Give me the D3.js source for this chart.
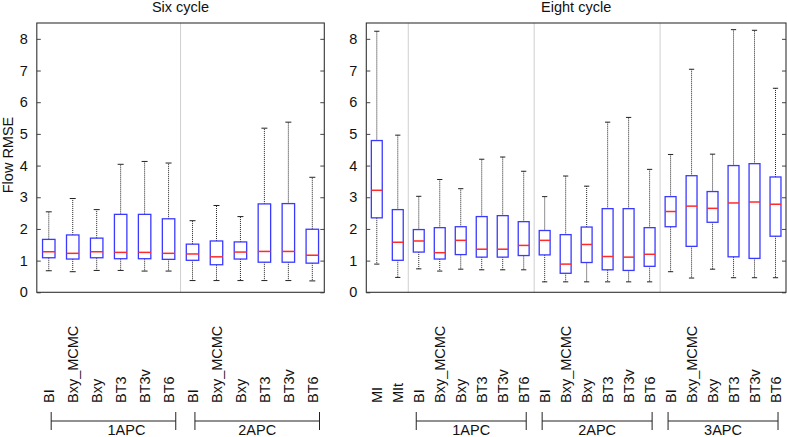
<!DOCTYPE html>
<html>
<head>
<meta charset="utf-8">
<script src="https://cdn.jsdelivr.net/npm/d3@7"></script>
<style>
  html, body { margin: 0; padding: 0; background: #fff; }
  svg { display: block; }
  text { font-family: "Liberation Sans", Arial, Helvetica, sans-serif; fill: #111; }
</style>
</head>
<body>
<svg id="chart" width="787" height="437"></svg>
<script>
// ---------- data ----------
const yTicks = [0, 1, 2, 3, 4, 5, 6, 7, 8];

const sixTitle = "Six cycle";
const sixLabels = ["BI","Bxy_MCMC","Bxy","BT3","BT3v","BT6","BI","Bxy_MCMC","Bxy","BT3","BT3v","BT6"];
const sixLow  = [0.68,0.65,0.69,0.69,0.67,0.67, 0.37,0.37,0.37,0.37,0.37,0.36];
const sixQ1   = [1.09,1.05,1.09,1.06,1.06,1.04, 1.01,0.87,1.05,0.95,0.95,0.92];
const sixMed  = [1.28,1.23,1.28,1.26,1.26,1.23, 1.21,1.12,1.27,1.29,1.29,1.17];
const sixQ3   = [1.67,1.81,1.71,2.46,2.46,2.32, 1.52,1.62,1.59,2.79,2.80,1.99];
const sixHigh = [2.54,2.96,2.61,4.04,4.13,4.08, 2.26,2.74,2.39,5.18,5.37,3.63];
const sixGroups = ["1APC","2APC"];
const sixGroupStart = [1, 7];
const sixGroupEnd = [6, 12];

const eightTitle = "Eight cycle";
const eightLabels = ["MI","MIt",
  "BI","Bxy_MCMC","Bxy","BT3","BT3v","BT6",
  "BI","Bxy_MCMC","Bxy","BT3","BT3v","BT6",
  "BI","Bxy_MCMC","Bxy","BT3","BT3v","BT6"];
const eightLow  = [0.89,0.47, 0.74,0.67,0.73,0.71,0.71,0.71, 0.33,0.33,0.33,0.33,0.33,0.33, 0.65,0.45,0.73,0.46,0.46,0.46];
const eightQ1   = [2.35,1.01, 1.27,1.05,1.19,1.11,1.11,1.16, 1.18,0.60,0.94,0.71,0.69,0.82, 2.07,1.45,2.21,1.12,1.07,1.77];
const eightMed  = [3.22,1.58, 1.62,1.25,1.64,1.36,1.36,1.48, 1.64,0.89,1.51,1.13,1.11,1.20, 2.55,2.72,2.65,2.82,2.85,2.78];
const eightQ3   = [4.79,2.61, 1.98,2.04,2.07,2.39,2.42,2.23, 1.95,1.82,2.06,2.64,2.64,2.04, 3.02,3.68,3.18,4.00,4.06,3.64];
const eightHigh = [8.24,4.96, 3.03,3.56,3.27,4.20,4.27,3.82, 3.02,3.67,3.35,5.37,5.52,3.88, 4.35,7.04,4.36,8.29,8.27,6.44];
const eightGroups = ["1APC","2APC","3APC"];
const eightGroupStart = [3, 9, 15];
const eightGroupEnd = [8, 14, 20];

// ---------- layout ----------
const svg = d3.select("#chart");
const FONT = 14.5;
const yScale = d3.scaleLinear().domain([0, 8.5]).range([292.3, 23]);

function drawPanel(opt) {
  const n = opt.labels.length;
  const x = d3.scaleLinear().domain([0.5, n + 0.5]).range([opt.x0, opt.x1]);
  const g = svg.append("g");
  const top = yScale.range()[1], bot = yScale.range()[0];

  // title
  g.append("text").attr("x", (opt.x0 + opt.x1) / 2).attr("y", 12)
    .attr("text-anchor", "middle").style("font-size", FONT + "px").text(opt.title);

  // separators
  opt.groupStart.forEach(s => {
    if (s - 0.5 > 0.5) {
      g.append("line").attr("x1", x(s - 0.5)).attr("x2", x(s - 0.5))
        .attr("y1", top).attr("y2", bot).attr("stroke", "#cfcfcf").attr("stroke-width", 1);
    }
  });

  // y axis (left, inward ticks) and right ticks
  const axL = d3.axisLeft(yScale).tickValues(yTicks).tickSizeInner(-4).tickSizeOuter(0).tickPadding(9);
  const gl = g.append("g").attr("transform", `translate(${opt.x0},0)`).call(axL);
  gl.select(".domain").remove();
  gl.selectAll("line").attr("stroke", "#444");
  gl.selectAll("text").style("font-size", FONT + "px").attr("fill", "#111")
    .style("font-family", '"Liberation Sans", Arial, Helvetica, sans-serif');
  const axR = d3.axisRight(yScale).tickValues(yTicks).tickSizeInner(-4).tickSizeOuter(0).tickFormat("");
  const gr = g.append("g").attr("transform", `translate(${opt.x1},0)`).call(axR);
  gr.select(".domain").remove();
  gr.selectAll("line").attr("stroke", "#444");

  // boxes
  const bw = 0.52, cw = 0.25;
  d3.range(n).forEach(i => {
    const c = i + 1;
    const bx = g.append("g");
    // whiskers (dotted)
    bx.append("line").attr("x1", x(c)).attr("x2", x(c))
      .attr("y1", yScale(opt.q3[i])).attr("y2", yScale(opt.high[i]))
      .attr("stroke", "#222").attr("stroke-width", 1).attr("stroke-dasharray", "1,1");
    bx.append("line").attr("x1", x(c)).attr("x2", x(c))
      .attr("y1", yScale(opt.q1[i])).attr("y2", yScale(opt.low[i]))
      .attr("stroke", "#222").attr("stroke-width", 1).attr("stroke-dasharray", "1,1");
    // caps
    [opt.high[i], opt.low[i]].forEach(v => {
      bx.append("line").attr("x1", x(c - cw / 2)).attr("x2", x(c + cw / 2))
        .attr("y1", yScale(v)).attr("y2", yScale(v))
        .attr("stroke", "#222").attr("stroke-width", 1);
    });
    // box
    bx.append("rect").attr("x", x(c - bw / 2)).attr("width", x(c + bw / 2) - x(c - bw / 2))
      .attr("y", yScale(opt.q3[i])).attr("height", yScale(opt.q1[i]) - yScale(opt.q3[i]))
      .attr("fill", "none").attr("stroke", "#3a3aff").attr("stroke-width", 1.3);
    // median
    bx.append("line").attr("x1", x(c - bw / 2)).attr("x2", x(c + bw / 2))
      .attr("y1", yScale(opt.med[i])).attr("y2", yScale(opt.med[i]))
      .attr("stroke", "#ff2a2a").attr("stroke-width", 1.5);
  });

  // frame
  g.append("rect").attr("x", opt.x0).attr("y", top).attr("width", opt.x1 - opt.x0).attr("height", bot - top)
    .attr("fill", "none").attr("stroke", "#333").attr("stroke-width", 1.1);

  // rotated category labels (start at bottom, read upward)
  opt.labels.forEach((lab, i) => {
    g.append("text")
      .attr("transform", `translate(${x(i + 1)},403) rotate(-90)`)
      .attr("dy", "0.36em").attr("text-anchor", "start")
      .style("font-size", FONT + "px").text(lab);
  });

  // group brackets
  const by = 421;
  opt.groups.forEach((gname, k) => {
    const xa = x(opt.groupStart[k] + opt.padStart), xb = x(opt.groupEnd[k] + opt.padEnd);
    g.append("line").attr("x1", xa).attr("x2", xb).attr("y1", by).attr("y2", by).attr("stroke", "#222");
    [xa, xb].forEach(xx => g.append("line").attr("x1", xx).attr("x2", xx)
      .attr("y1", by - 9).attr("y2", by + 9).attr("stroke", "#222"));
    g.append("text").attr("x", (xa + xb) / 2 + (opt.labelShift[k] || 0)).attr("y", 435)
      .attr("text-anchor", "middle").style("font-size", FONT + "px").text(gname);
  });
}

drawPanel({
  title: sixTitle, labels: sixLabels, low: sixLow, q1: sixQ1, med: sixMed, q3: sixQ3, high: sixHigh,
  groups: sixGroups, groupStart: sixGroupStart, groupEnd: sixGroupEnd,
  x0: 36.8, x1: 324.3, padStart: 0.1, padEnd: 0.3, labelShift: [13, 0]
});
drawPanel({
  title: eightTitle, labels: eightLabels, low: eightLow, q1: eightQ1, med: eightMed, q3: eightQ3, high: eightHigh,
  groups: eightGroups, groupStart: eightGroupStart, groupEnd: eightGroupEnd,
  x0: 366.3, x1: 786, padStart: -0.12, padEnd: 0.12, labelShift: [0, 0, 0]
});

// y-axis label
svg.append("text").attr("transform", "translate(12.5,155) rotate(-90)")
  .attr("text-anchor", "middle").style("font-size", FONT + "px").text("Flow RMSE");
</script>
</body>
</html>
